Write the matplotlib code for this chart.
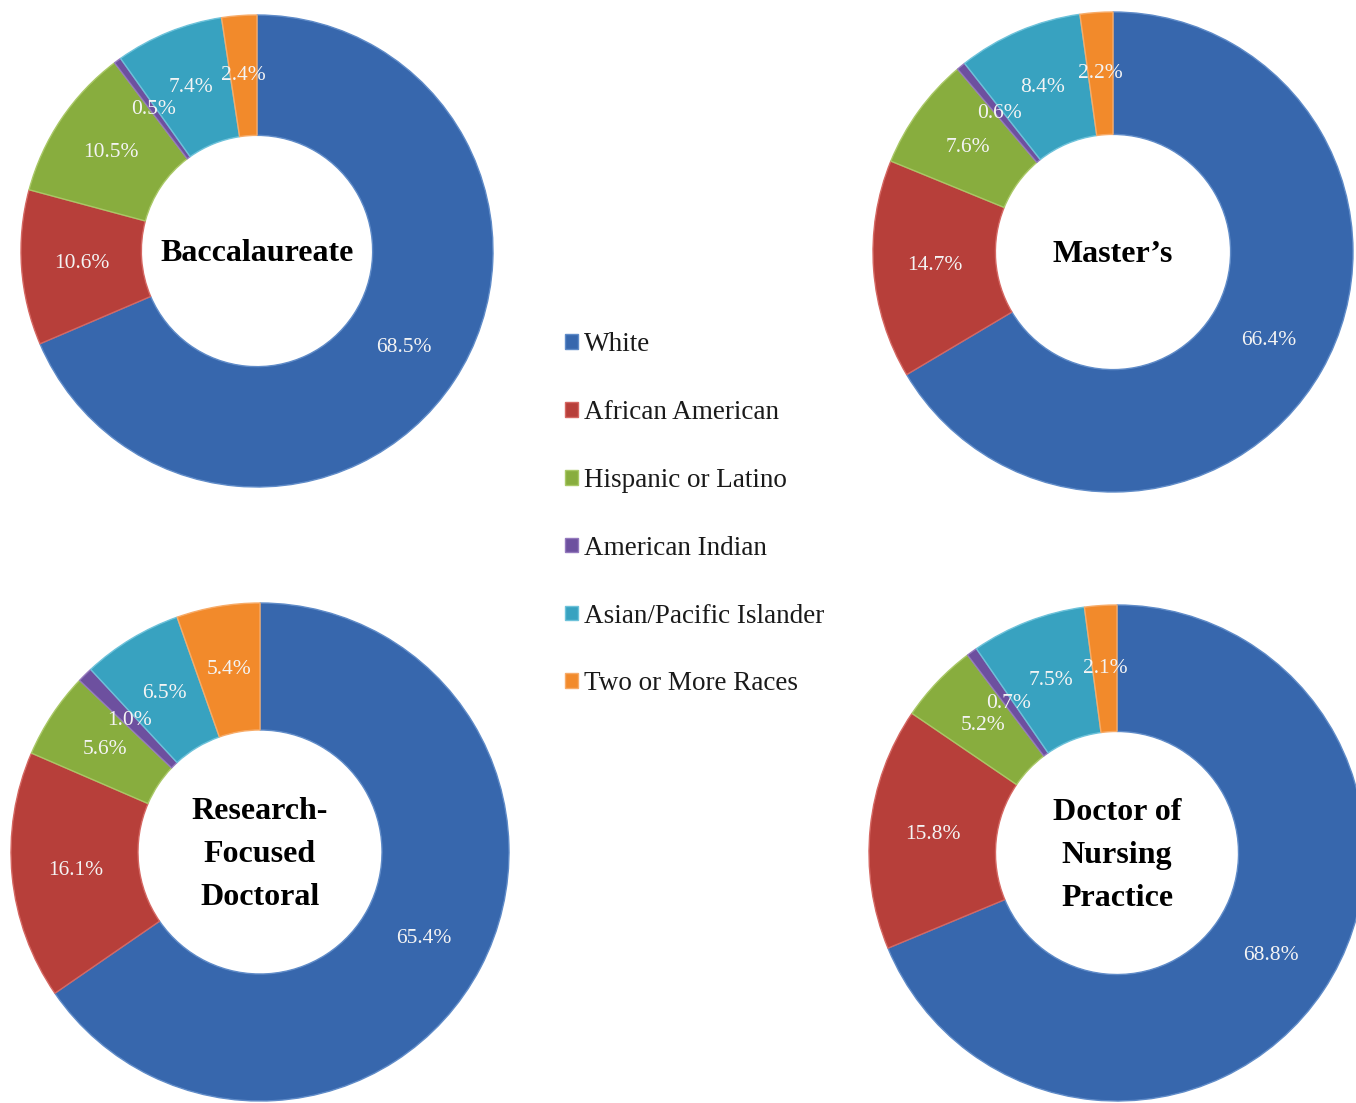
import matplotlib.pyplot as plt
from matplotlib.patches import Patch

plt.rcParams['font.family'] = ['Liberation Serif', 'DejaVu Serif']

groups = ["White", "African American", "Hispanic or Latino", "American Indian",
          "Asian/Pacific Islander", "Two or More Races"]
colors = ["#3767ad", "#b73f3a", "#88ad3e", "#6d509f", "#38a2c0", "#f28a2b"]
edges = ["#5f8bc8", "#d56762", "#a9c866", "#9479bd", "#6dc2da", "#f7ab68"]

titles = ["Baccalaureate", "Master\u2019s", "Research-\nFocused\nDoctoral",
          "Doctor of\nNursing\nPractice"]
baccalaureate = [68.5, 10.6, 10.5, 0.5, 7.4, 2.4]
masters = [66.4, 14.7, 7.6, 0.6, 8.4, 2.2]
research = [65.4, 16.1, 5.6, 1.0, 6.5, 5.4]
dnp = [68.8, 15.8, 5.2, 0.7, 7.5, 2.1]
all_values = [baccalaureate, masters, research, dnp]

W, H = 1356, 1103
fig = plt.figure(figsize=(W / 100, H / 100), dpi=100)

# donut centres and outer radii in pixels
spots = [(257, 251, 236), (1113, 252, 240), (260, 852, 249), (1117, 853, 248)]
hole = 0.49

for (cx, cy, r), vals, title in zip(spots, all_values, titles):
    ax = fig.add_axes([(cx - r) / W, 1 - (cy + r) / H, 2 * r / W, 2 * r / H])
    wedges, texts = ax.pie(vals, colors=colors, startangle=90, counterclock=False,
                           radius=1, labels=[f"{v:.1f}%" for v in vals],
                           labeldistance=(1 + hole) / 2,
                           wedgeprops=dict(width=1 - hole, linewidth=1.0))
    for w, ec in zip(wedges, edges):
        w.set_edgecolor(ec)
    for t in texts:
        t.set_ha('center')
        t.set_va('center')
        t.set_color('#f4f4f4')
        t.set_fontsize(15.5)
    ax.text(0, -0.01, title, ha='center', va='center', fontsize=23,
            fontweight='bold', linespacing=1.65)
    ax.set_xlim(-1, 1)
    ax.set_ylim(-1, 1)
    ax.set_aspect('equal')
    ax.axis('off')

handles = [Patch(facecolor=c, edgecolor=e, label=g) for c, e, g in zip(colors, edges, groups)]
fig.legend(handles=handles, loc='upper left', bbox_to_anchor=(541 / W, 1 - 308 / H),
           frameon=False, fontsize=19.5, handlelength=0.45, handleheight=0.45,
           handletextpad=0.25, labelspacing=1.58, labelcolor='#1a1a1a')

fig.savefig("out.png", dpi=100)
